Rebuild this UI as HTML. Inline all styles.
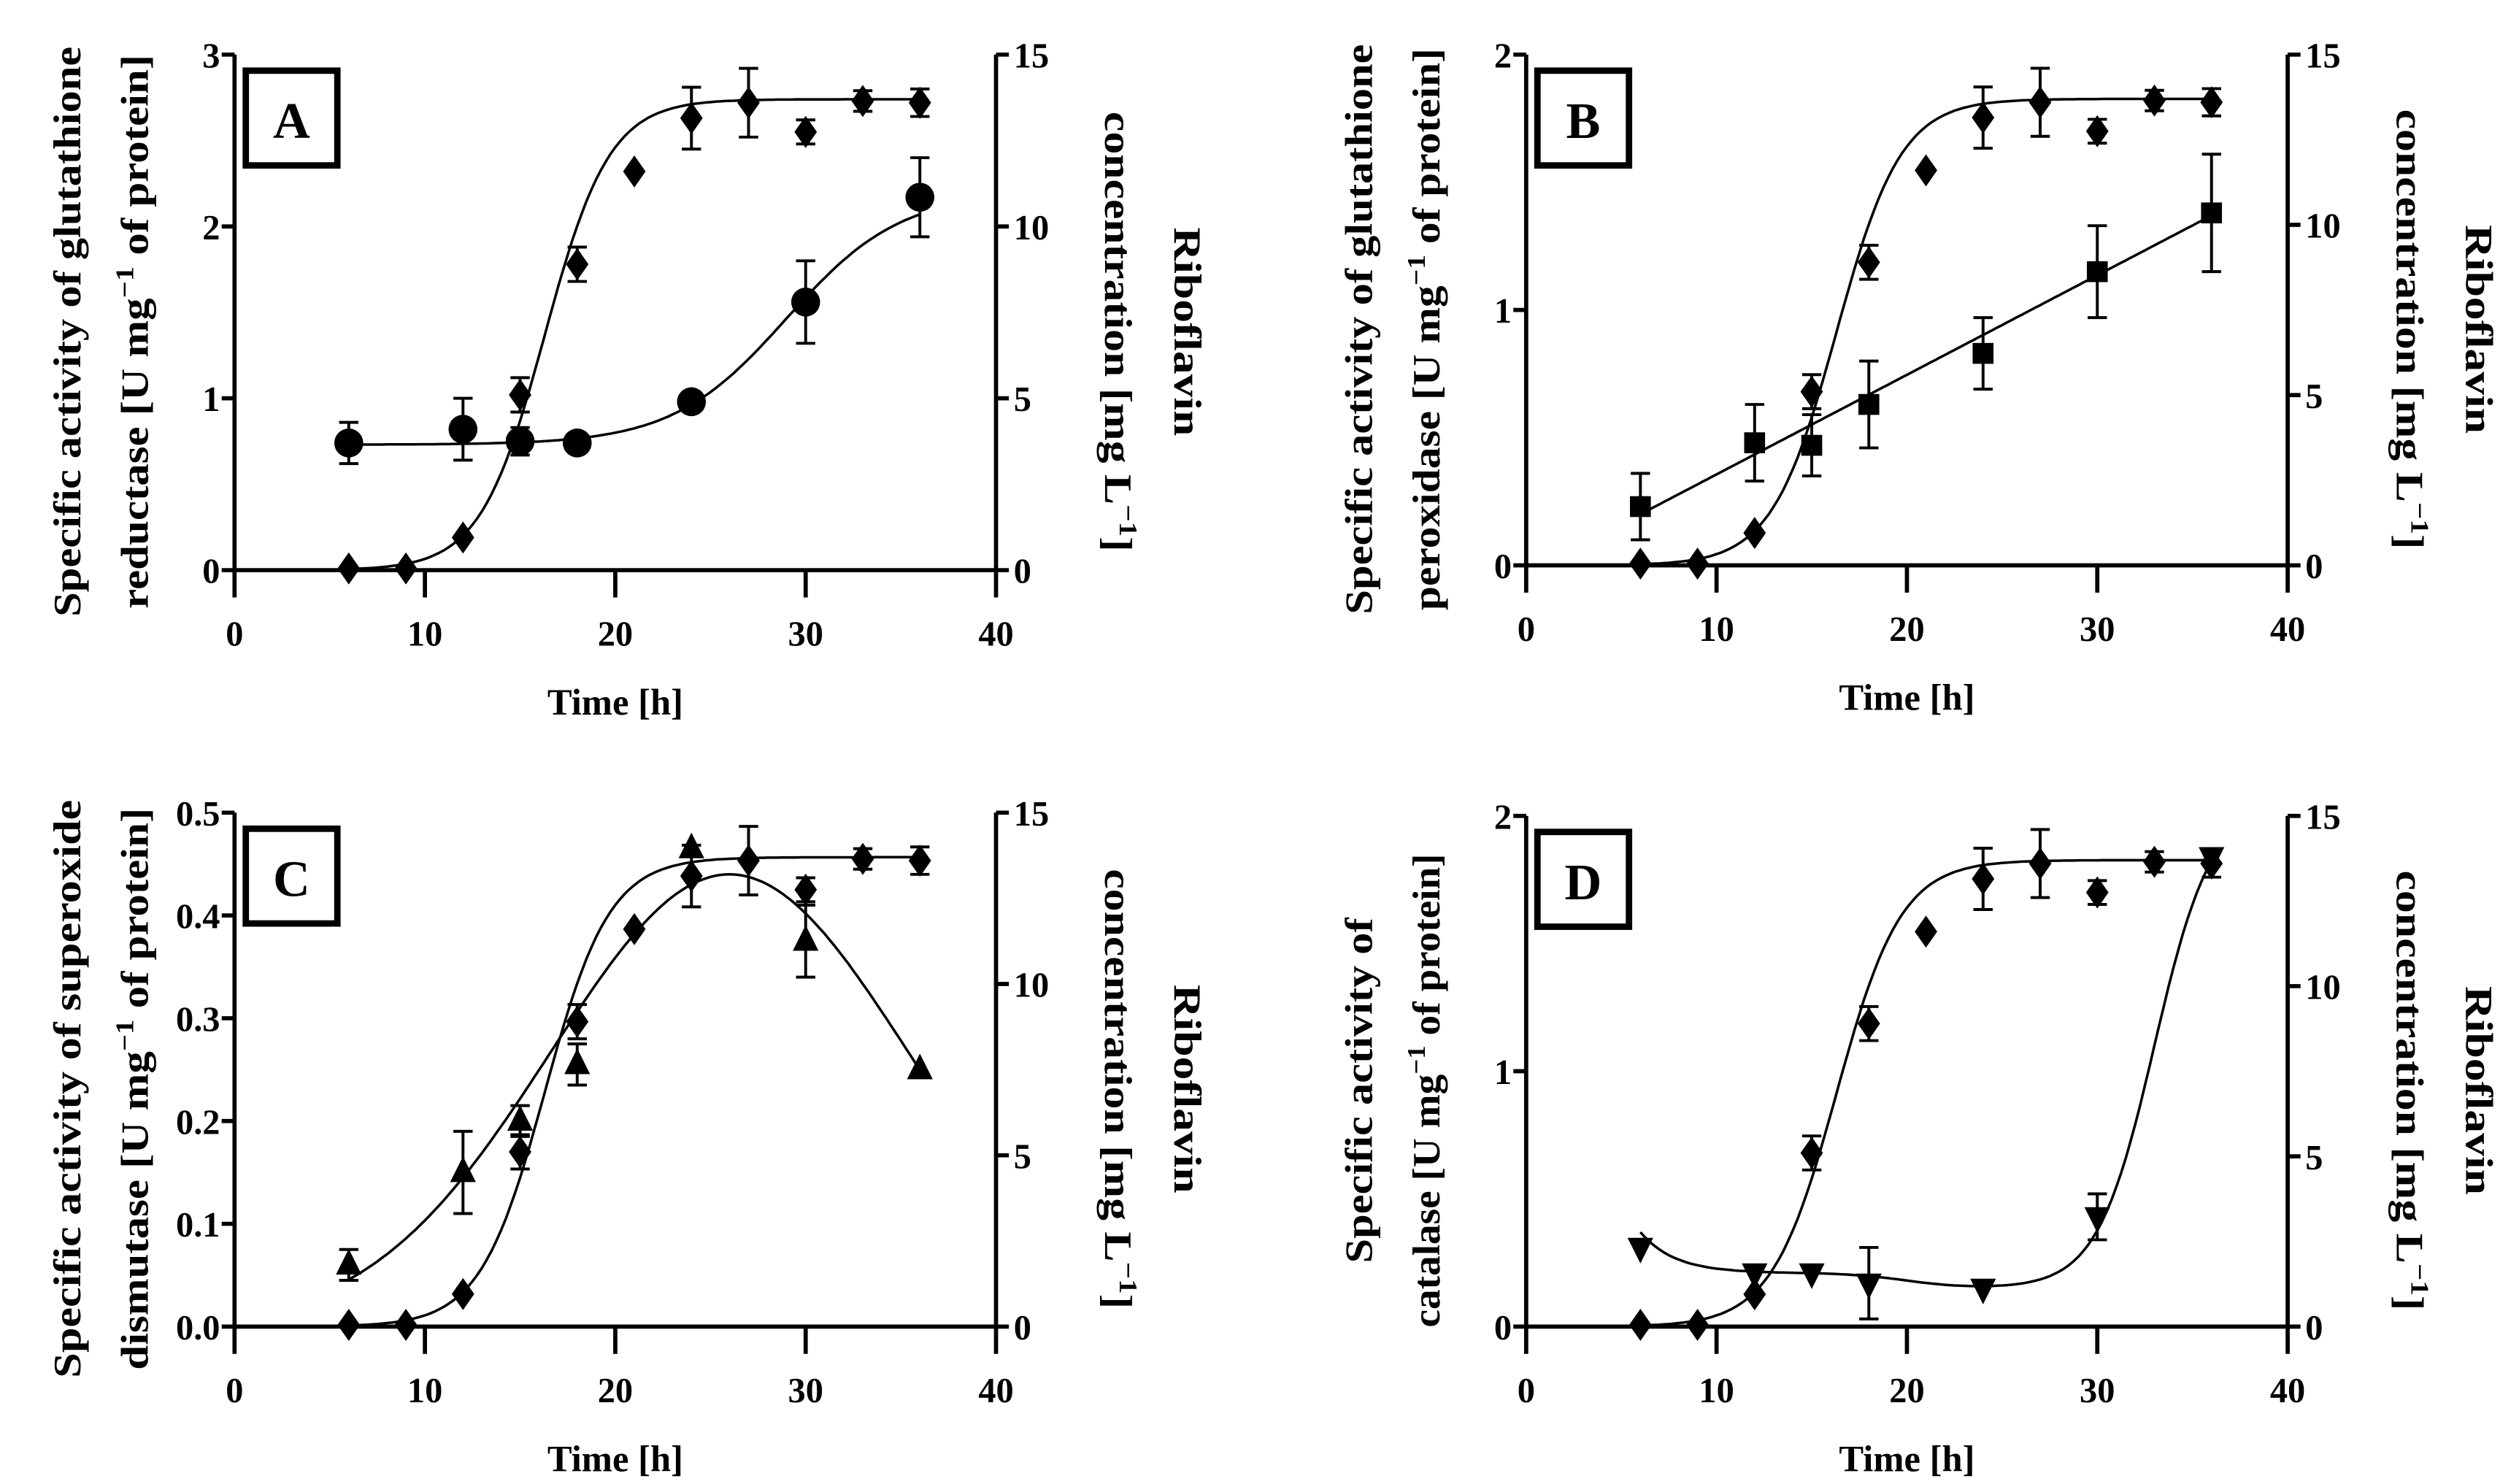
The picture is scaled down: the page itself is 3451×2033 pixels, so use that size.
<!DOCTYPE html>
<html><head><meta charset="utf-8"><style>
html,body{margin:0;padding:0;background:#fff;}
svg{display:block;}
text{font-family:"Liberation Serif",serif;font-weight:bold;fill:#000;}
.tick{font-size:22px;}
.title{font-size:24px;}
</style></head><body>
<svg id="chart" width="3451" height="2033" viewBox="0 0 1568 924" preserveAspectRatio="none" xmlns="http://www.w3.org/2000/svg"></svg>
<script>
// ---- data ----
const ribT = [6, 9, 12, 15, 18, 21, 24, 27, 30, 33, 36];
const ribV = [0.05, 0.05, 0.95, 5.1, 8.9, 11.6, 13.15, 13.6, 12.75, 13.65, 13.6];
const ribE = [0, 0, 0, 0.5, 0.5, 0, 0.9, 1.0, 0.35, 0.3, 0.4];
const ribFit = [13.7, 16.3, 1.7]; // plateau, midpoint, scale

const grT = [6, 12, 15, 18, 24, 30, 36];
const grV = [0.74, 0.82, 0.75, 0.74, 0.98, 1.56, 2.17];
const grE = [0.12, 0.18, 0.08, 0, 0, 0.24, 0.23];
const grFit = [0.73, 2.2, 29, 3];

const gpxT = [6, 12, 15, 18, 24, 30, 36];
const gpxV = [0.23, 0.48, 0.47, 0.63, 0.83, 1.15, 1.38];
const gpxE = [0.13, 0.15, 0.12, 0.17, 0.14, 0.18, 0.23];
const gpxFit = [0.2, 1.37];

const sodT = [6, 12, 15, 18, 24, 30, 36];
const sodV = [0.06, 0.15, 0.2, 0.255, 0.465, 0.375, 0.25];
const sodE = [0.015, 0.04, 0.015, 0.02, 0, 0.035, 0];
const sodFit = [0.44, 26, 9.4];

const catT = [6, 12, 15, 18, 24, 30, 36];
const catV = [0.31, 0.21, 0.21, 0.17, 0.15, 0.43, 1.84];
const catE = [0, 0, 0, 0.14, 0, 0.09, 0.03];
const catFit = [0.15, 0.16, 0.06, 1.9, 33, 1.5];

const xTicks = [0, 10, 20, 30, 40];
const rTicks = [0, 5, 10, 15];

const NS = "http://www.w3.org/2000/svg";
const svg = document.getElementById('chart');
function mk(tag, attrs, parent) {
  const e = document.createElementNS(NS, tag);
  for (const k in attrs) e.setAttribute(k, attrs[k]);
  (parent || svg).appendChild(e);
  return e;
}

function panel(cfg) {
  const g = mk('g', {});
  
  
  const x0 = cfg.x0, x1 = cfg.x0 + 474, yb = cfg.yb, yt = cfg.yt;
  const sx = t => x0 + (t / 40) * (x1 - x0);
  const syL = v => yb - (v / cfg.lmax) * (yb - yt);
  const syR = v => yb - (v / 15) * (yb - yt);
  const ext = 17;
  const ax = mk('g', {stroke: '#000', 'stroke-width': 2.6, fill: 'none'}, g);
  
  
  mk('line', {x1: x0, y1: yt, x2: x0, y2: yb + ext}, ax);
  mk('line', {x1: x1, y1: yt, x2: x1, y2: yb + ext}, ax);
  mk('line', {x1: x0, y1: yb, x2: x1, y2: yb}, ax);
  xTicks.forEach(t => {
    if (t > 0 && t < 40) mk('line', {x1: sx(t), y1: yb, x2: sx(t), y2: yb + ext}, ax);
    const tx = mk('text', {x: sx(t), y: yb + 47, 'text-anchor': 'middle', class: 'tick'}, g);
    
    
    tx.textContent = t;
  });
  cfg.lticks.forEach(v => {
    mk('line', {x1: x0 - 8, y1: syL(v), x2: x0, y2: syL(v)}, ax);
    const tx = mk('text', {x: x0 - 9, y: syL(v) + 8, 'text-anchor': 'end', class: 'tick'}, g);
    
    
    tx.textContent = cfg.lfmt(v);
  });
  rTicks.forEach(v => {
    mk('line', {x1: x1, y1: syR(v), x2: x1 + 8, y2: syR(v)}, ax);
    const tx = mk('text', {x: x1 + 11, y: syR(v) + 8, 'text-anchor': 'start', class: 'tick'}, g);
    
    
    tx.textContent = v;
  });
  const bx = mk('rect', {x: x0 + 7, y: yt + 10, width: 57, height: 59, fill: '#fff', stroke: '#000', 'stroke-width': 4}, g);
  
  
  const bl = mk('text', {x: x0 + 35.5, y: yt + 52, 'text-anchor': 'middle', style: 'font-size:32px'}, g);
  
  
  bl.textContent = cfg.letter;
  const xt = mk('text', {x: (x0 + x1) / 2, y: yb + 90, 'text-anchor': 'middle', style: 'font-size:23px'}, g);
  
  
  xt.textContent = 'Time [h]';
  const cy = (yt + yb) / 2 + 12;
  function vtitle(x, lines, dir, nm, len) {
    const t = mk('text', {transform: `translate(${x},${cy}) rotate(${dir})`, 'text-anchor': 'middle', class: 'title', textLength: len, lengthAdjust: 'spacingAndGlyphs'}, g);
    
    
    t.innerHTML = lines;
  }
  vtitle(x0 - 96, cfg.l1, -90, 'left-y-axis-title-line1', cfg.len1);
  vtitle(x0 - 54, cfg.l2 + ' [U mg<tspan dy="-9" font-size="16">−1</tspan><tspan dy="9"> of protein]</tspan>', -90, 'left-y-axis-title-line2', cfg.len2);
  vtitle(x1 + 111, 'Riboflavin', 90, 'right-y-axis-title-line1', 130);
  vtitle(x1 + 68, 'concentration [mg L<tspan dy="-9" font-size="16">−1</tspan><tspan dy="9">]</tspan>', 90, 'right-y-axis-title-line2', 274);

  function curve(fn, sy, nm) {
    let d = '';
    for (let t = 6; t <= 36.001; t += 0.25) d += (d ? 'L' : 'M') + sx(t).toFixed(1) + ',' + sy(fn(t)).toFixed(1);
    const p = mk('path', {d: d, fill: 'none', stroke: '#000', 'stroke-width': 1.6}, g);
    
    
  }
  function series(T, V, E, sy, shape, nm) {
    const sg = mk('g', {}, g);
    
    
    T.forEach((t, i) => {
      const x = sx(t), y = sy(V[i]);
      if (E[i] > 0) {
        const ya = sy(V[i] + E[i]), yb2 = sy(V[i] - E[i]);
        mk('path', {d: `M${x},${ya}V${yb2}M${x - 6},${ya}H${x + 6}M${x - 6},${yb2}H${x + 6}`, stroke: '#000', 'stroke-width': 1.8, fill: 'none'}, sg);
      }
      let m;
      if (shape === 'diamond') m = mk('path', {d: `M${x},${y - 10}L${x + 7},${y}L${x},${y + 10}L${x - 7},${y}Z`}, sg);
      else if (shape === 'circle') m = mk('circle', {cx: x, cy: y, r: 9}, sg);
      else if (shape === 'square') m = mk('rect', {x: x - 6.5, y: y - 6.5, width: 13, height: 13}, sg);
      else if (shape === 'tri') m = mk('path', {d: `M${x},${y - 10}L${x + 8},${y + 6}L${x - 8},${y + 6}Z`}, sg);
      else m = mk('path', {d: `M${x},${y + 10}L${x + 8},${y - 6}L${x - 8},${y - 6}Z`}, sg);
      
      
    });
  }
  curve(t => ribFit[0] / (1 + Math.exp(-(t - ribFit[1]) / ribFit[2])), syR, 'riboflavin-fit');
  curve(cfg.fit, syL, 'enzyme-fit');
  series(ribT, ribV, ribE, syR, 'diamond', 'riboflavin-series');
  series(cfg.T, cfg.V, cfg.E, syL, cfg.shape, 'enzyme-series');
}

panel({name: 'panel-a', letter: 'A', x0: 146, yb: 355, yt: 34, lmax: 3, lticks: [0, 1, 2, 3], lfmt: v => v,
  l1: 'Specific activity of glutathione', l2: 'reductase', len1: 355, len2: 345,
  T: grT, V: grV, E: grE, shape: 'circle',
  fit: t => grFit[0] + (grFit[1] - grFit[0]) / (1 + Math.exp(-(t - grFit[2]) / grFit[3]))});
panel({name: 'panel-b', letter: 'B', x0: 950, yb: 352, yt: 34, lmax: 2, lticks: [0, 1, 2], lfmt: v => v,
  l1: 'Specific activity of glutathione', l2: 'peroxidase', len1: 355, len2: 350,
  T: gpxT, V: gpxV, E: gpxE, shape: 'square',
  fit: t => gpxFit[0] + (gpxFit[1] - gpxFit[0]) * (t - 6) / 30});
panel({name: 'panel-c', letter: 'C', x0: 146, yb: 826, yt: 506, lmax: 0.5, lticks: [0, 0.1, 0.2, 0.3, 0.4, 0.5], lfmt: v => v.toFixed(1),
  l1: 'Specific activity of superoxide', l2: 'dismutase', len1: 360, len2: 350,
  T: sodT, V: sodV, E: sodE, shape: 'tri',
  fit: t => sodFit[0] * Math.exp(-((t - sodFit[1]) ** 2) / (2 * sodFit[2] ** 2))});
panel({name: 'panel-d', letter: 'D', x0: 950, yb: 826, yt: 508, lmax: 2, lticks: [0, 1, 2], lfmt: v => v,
  l1: 'Specific activity of', l2: 'catalase', len1: 215, len2: 295,
  T: catT, V: catV, E: catE, shape: 'tridown',
  fit: t => catFit[0] + catFit[1] * Math.exp(-(t - 6) / 1.8) + catFit[2] / (1 + Math.exp((t - 20) / 1.5)) + catFit[3] / (1 + Math.exp(-(t - catFit[4]) / catFit[5]))});
</script>
</body></html>
